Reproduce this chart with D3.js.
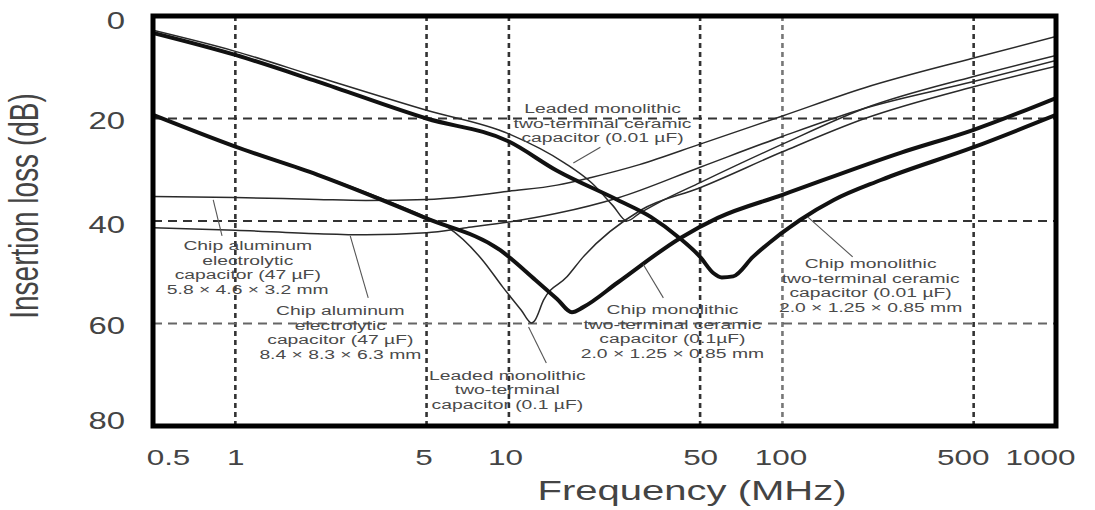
<!DOCTYPE html>
<html>
<head>
<meta charset="utf-8">
<script src="https://cdn.jsdelivr.net/npm/d3@7"></script>
<style>
    body { margin: 0; background: #fff; }
    svg text { font-family: "Liberation Sans", Arial, sans-serif; }
</style>
</head>
<body>
<div id="chart"></div>
<script>
// axis ticks
var freqTicks = [0.5, 1, 5, 10, 50, 100, 500, 1000];
var freqGrid = [1, 5, 10, 50, 100, 500];
var lossTicks = [0, 20, 40, 60, 80];
var lossGrid = [20, 40, 60];

// chip monolithic two-terminal ceramic 0.01 uF (thick)
var chip001Freq = [0.5, 1, 2, 5, 10, 15, 25, 33, 42, 50, 56, 60, 66, 78, 116, 154, 229, 500, 1000];
var chip001Loss = [3.3, 7.6, 12.8, 20, 24.5, 30.2, 35.9, 39.2, 43.3, 47, 50.2, 51, 50.8, 47, 39.8, 35.9, 32, 25.6, 19.3];

// chip monolithic two-terminal ceramic 0.1 uF (thick)
var chip01Freq = [0.5, 1, 2, 5, 9.3, 12.5, 15, 17, 18.7, 25, 42.4, 58, 100, 270, 500, 1000];
var chip01Loss = [19.3, 25.5, 31, 39.5, 45.7, 51.5, 55.2, 57.8, 56.8, 52, 43.3, 39.4, 34.9, 26.7, 22.2, 16];

// leaded monolithic two-terminal ceramic 0.01 uF
var leaded001Freq = [0.5, 1, 2, 5, 10, 16, 20, 24, 27, 30, 35, 50, 100, 200, 500, 1000];
var leaded001Loss = [2.8, 6.9, 11.9, 18.4, 23, 28.7, 32.5, 37, 40, 38.5, 36.5, 32.5, 25, 18, 11.8, 7.7];

// leaded monolithic two-terminal 0.1 uF
var leaded01Freq = [0.5, 1, 2, 5, 6, 8, 9.5, 11.1, 12.1, 12.4, 13.4, 16.3, 18.7, 30.3, 50, 100, 200, 500, 1000];
var leaded01Loss = [19.4, 25.4, 30.9, 39.3, 41.3, 47.6, 52.9, 57.4, 59.9, 59.5, 55.4, 50.9, 47, 37.9, 33.5, 26.5, 20, 13.8, 9.8];

// chip aluminum electrolytic 47 uF, 5.8 x 4.6 x 3.2 mm
var aluSmallFreq = [0.5, 1, 2, 3, 5, 7, 10, 15, 20, 30, 50, 100, 200, 500, 1000];
var aluSmallLoss = [35.2, 35.4, 35.8, 36, 35.8, 35.2, 34.2, 33, 31.5, 29, 25, 19.5, 14, 8.2, 4];

// chip aluminum electrolytic 47 uF, 8.4 x 8.3 x 6.3 mm
var aluLargeFreq = [0.5, 1, 2, 3, 5, 7, 10, 15, 25, 50, 100, 200, 500, 1000];
var aluLargeLoss = [41.3, 41.8, 42.5, 42.7, 42.3, 41.3, 40.2, 38.5, 35.5, 29.5, 23.5, 18, 12.8, 8.7];

function init() {
    var w = 1095;
    var h = 510;
    var sx = 1.43; // the picture's text is stretched sideways

    var x = d3.scaleLog().domain([0.5, 1000]).range([153, 1056]);
    var y = d3.scaleLinear().domain([0, 80]).range([16, 426]);

    var svg = d3.select("#chart")
                .append("svg")
                .attr("width", w)
                .attr("height", h);

    svg.append("clipPath").attr("id", "plot")
        .append("rect")
        .attr("x", x(0.5)).attr("y", y(0))
        .attr("width", x(1000) - x(0.5)).attr("height", y(80) - y(0));

    //dashed grid
    svg.selectAll("line.vgrid")
        .data(freqGrid)
        .enter()
        .append("line")
        .attr("class", "vgrid")
        .attr("x1", function(d) { return x(d); })
        .attr("x2", function(d) { return x(d); })
        .attr("y1", y(0))
        .attr("y2", y(80))
        .attr("stroke", function(d) { return d == 100 ? "#777" : "#333"; })
        .attr("stroke-width", 2.6)
        .attr("stroke-dasharray", "5,4");

    svg.selectAll("line.hgrid")
        .data(lossGrid)
        .enter()
        .append("line")
        .attr("class", "hgrid")
        .attr("x1", x(0.5))
        .attr("x2", x(1000))
        .attr("y1", function(d) { return y(d); })
        .attr("y2", function(d) { return y(d); })
        .attr("stroke", function(d) { return d == 60 ? "#666" : "#333"; })
        .attr("stroke-width", 1.8)
        .attr("stroke-dasharray", "9,6");

    var series = [
        {f: aluSmallFreq, v: aluSmallLoss, thick: false},
        {f: aluLargeFreq, v: aluLargeLoss, thick: false},
        {f: leaded001Freq, v: leaded001Loss, thick: false},
        {f: leaded01Freq, v: leaded01Loss, thick: false},
        {f: chip001Freq, v: chip001Loss, thick: true},
        {f: chip01Freq, v: chip01Loss, thick: true}
    ];

    var line = d3.line()
                .x(function(d) { return x(d[0]); })
                .y(function(d) { return y(d[1]); })
                .curve(d3.curveMonotoneX);

    svg.append("g")
        .attr("clip-path", "url(#plot)")
        .selectAll("path")
        .data(series)
        .enter()
        .append("path")
        .attr("fill", "none")
        .attr("stroke", function(d) { return d.thick ? "#111" : "#2a2a2a"; })
        .attr("stroke-width", function(d) { return d.thick ? 4 : 1.5; })
        .attr("stroke-linejoin", "round")
        .attr("d", function(d) {
            return line(d.f.map(function(f, i) { return [f, d.v[i]]; }));
        });

    //frame
    svg.append("rect")
        .attr("x", x(0.5))
        .attr("y", y(0))
        .attr("width", x(1000) - x(0.5))
        .attr("height", y(80) - y(0))
        .attr("fill", "none")
        .attr("stroke", "#000")
        .attr("stroke-width", 5);

    //callouts, placed in data units
    var notes = [
        {at: [1.11, 44.7], from: [0.83, 35.9], to: [0.894, 42.9],
         lines: ["Chip aluminum", "electrolytic", "capacitor (47 \u00b5F)", "5.8 \u00d7 4.6 \u00d7 3.2 mm"]},
        {at: [2.42, 57.4], from: [2.63, 42.9], to: [3.06, 55],
         lines: ["Chip aluminum", "electrolytic", "capacitor (47 \u00b5F)", "8.4 \u00d7 8.3 \u00d7 6.3 mm"]},
        {at: [9.87, 70], from: [11.8, 60.7], to: [13.7, 67.7],
         lines: ["Leaded monolithic", "two-terminal", "capacitor (0.1 \u00b5F)"]},
        {at: [39.6, 57.2], from: [31, 48.5], to: [36.7, 55],
         lines: ["Chip monolithic", "two-terminal ceramic", "capacitor (0.1\u00b5F)", "2.0 \u00d7 1.25 \u00d7 0.85 mm"]},
        {at: [210, 48.2], from: [123.6, 39.2], to: [180.6, 47],
         lines: ["Chip monolithic", "two-terminal ceramic", "capacitor (0.01 \u00b5F)", "2.0 \u00d7 1.25 \u00d7 0.85 mm"]},
        {at: [22, 18], from: [17.2, 28.7], to: [21.6, 25.6],
         lines: ["Leaded monolithic", "two-terminal ceramic", "capacitor (0.01 \u00b5F)"]}
    ];

    svg.selectAll("line.pointer")
        .data(notes)
        .enter()
        .append("line")
        .attr("class", "pointer")
        .attr("x1", function(d) { return x(d.from[0]); })
        .attr("y1", function(d) { return y(d.from[1]); })
        .attr("x2", function(d) { return x(d.to[0]); })
        .attr("y2", function(d) { return y(d.to[1]); })
        .attr("stroke", "#555")
        .attr("stroke-width", 1.1);

    var labels = svg.selectAll("text.note")
        .data(notes)
        .enter()
        .append("text")
        .attr("class", "note")
        .attr("transform", function(d) {
            return "translate(" + x(d.at[0]) + "," + y(d.at[1]) + ") scale(" + sx + ",1)";
        })
        .attr("text-anchor", "middle")
        .attr("font-size", 13.5)
        .attr("fill", "#4a4a4a");

    labels.selectAll("tspan")
        .data(function(d) { return d.lines; })
        .enter()
        .append("tspan")
        .attr("x", 0)
        .attr("y", function(d, i) { return i * 14.5 + 5; })
        .text(function(d) { return d; });

    //axes
    var xNudge = [15, 0, -3, -4, 0, -2, -11, -16];
    var xAxis = d3.axisBottom(x).tickValues(freqTicks).tickFormat(function(d) { return d; }).tickSize(0);
    var gx = svg.append("g").attr("transform", "translate(0,465)").call(xAxis);
    gx.select(".domain").remove();
    gx.selectAll("text")
        .attr("y", 0).attr("dy", 0)
        .attr("x", function(d, i) { return xNudge[i] / sx; })
        .attr("transform", "scale(" + sx + ",1)")
        .attr("font-size", 22)
        .attr("fill", "#444");

    var yNudge = [12, 10, 11, 9.5, 2];
    var yAxis = d3.axisLeft(y).tickValues(lossTicks).tickSize(0);
    var gy = svg.append("g").attr("transform", "translate(" + x(0.5) + ",0)").call(yAxis);
    gy.select(".domain").remove();
    gy.selectAll("text")
        .attr("x", -28 / sx)
        .attr("dy", 0)
        .attr("y", function(d, i) { return yNudge[i]; })
        .attr("transform", "scale(" + sx + ",1)")
        .attr("font-size", 23)
        .attr("fill", "#444");

    svg.append("text")
        .attr("transform", "translate(692,500) scale(" + sx + ",1)")
        .attr("text-anchor", "middle")
        .attr("font-size", 28)
        .attr("fill", "#444")
        .text("Frequency (MHz)");

    svg.append("text")
        .attr("transform", "translate(38,206) scale(" + sx + ",1) rotate(-90)")
        .attr("text-anchor", "middle")
        .attr("font-size", 28)
        .attr("fill", "#444")
        .text("Insertion loss (dB)");
}

window.onload = init;
</script>
</body>
</html>
